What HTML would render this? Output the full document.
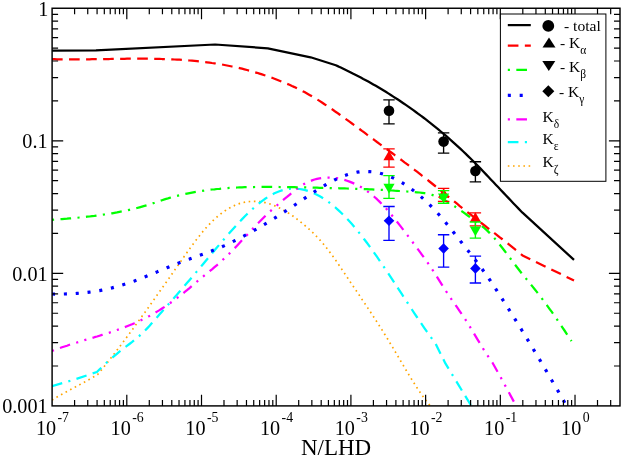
<!DOCTYPE html>
<html><head><meta charset="utf-8"><title>plot</title>
<style>html,body{margin:0;padding:0;background:#fff;}svg{display:block;will-change:transform;font-family:"Liberation Serif",serif;}</style>
</head><body>
<svg width="622" height="458" viewBox="0 0 622 458">
<rect x="0" y="0" width="622" height="458" fill="#fff"/>
<defs><clipPath id="c"><rect x="52.1" y="8.25" width="567.9" height="397.65"/></clipPath></defs>
<g clip-path="url(#c)" fill="none" stroke-linejoin="round">
<path d="M52.0,400.0 L54.5,398.6 L57.0,397.1 L59.5,395.7 L62.0,394.3 L64.5,392.9 L67.0,391.6 L69.5,390.2 L72.0,388.8 L74.5,387.5 L77.0,386.1 L79.5,384.8 L82.0,383.4 L84.5,382.1 L87.0,380.7 L89.5,379.3 L92.0,377.9 L94.5,376.5 L97.0,375.1 L97.5,374.8 L100.0,371.7 L102.5,368.6 L105.0,365.5 L107.5,362.4 L110.0,359.2 L112.5,356.0 L115.0,352.8 L117.5,349.5 L120.0,346.2 L122.5,342.9 L125.0,339.6 L127.5,336.2 L130.0,332.8 L132.5,329.4 L135.0,326.0 L137.5,322.6 L140.0,319.1 L142.5,315.6 L145.0,312.2 L147.5,308.7 L150.0,305.2 L152.5,301.6 L155.0,298.1 L157.5,294.6 L160.0,291.0 L162.5,287.5 L165.0,283.9 L167.5,280.4 L170.0,276.8 L172.5,273.2 L175.0,269.6 L177.5,266.1 L180.0,262.5 L182.5,258.9 L185.0,255.3 L187.5,251.8 L190.0,248.3 L192.5,244.9 L195.0,241.5 L197.5,238.3 L200.0,235.1 L202.5,232.0 L205.0,229.0 L207.5,226.2 L210.0,223.6 L212.5,221.0 L215.0,218.7 L217.5,216.5 L220.0,214.4 L222.5,212.5 L225.0,210.8 L227.5,209.2 L230.0,207.7 L232.5,206.4 L235.0,205.3 L237.5,204.3 L240.0,203.4 L242.5,202.7 L245.0,202.2 L247.5,201.7 L250.0,201.5 L252.5,201.3 L255.0,201.3 L257.5,201.4 L260.0,201.7 L262.5,202.1 L265.0,202.6 L267.5,203.2 L270.0,204.0 L272.5,204.9 L275.0,205.9 L277.5,207.0 L280.0,208.2 L282.5,209.5 L285.0,211.0 L287.5,212.5 L290.0,214.1 L292.5,215.8 L295.0,217.6 L297.5,219.5 L300.0,221.5 L302.5,223.5 L305.0,225.6 L307.5,227.7 L310.0,230.0 L312.5,232.3 L315.0,234.8 L317.5,237.4 L320.0,240.1 L322.5,242.9 L325.0,246.0 L327.5,249.1 L330.0,252.4 L332.5,255.8 L335.0,259.3 L337.5,262.9 L340.0,266.6 L342.5,270.3 L345.0,274.0 L347.5,277.7 L350.0,281.5 L352.5,285.2 L355.0,288.9 L357.5,292.6 L360.0,296.3 L362.5,300.1 L365.0,303.8 L367.5,307.6 L370.0,311.3 L372.5,315.1 L375.0,319.0 L377.5,322.9 L380.0,326.8 L382.5,330.7 L385.0,334.8 L387.5,338.8 L390.0,343.0 L392.5,347.1 L395.0,351.4 L397.5,355.6 L400.0,359.9 L402.5,364.1 L405.0,368.3 L407.5,372.5 L410.0,376.6 L412.5,380.7 L415.0,384.6 L417.5,388.5 L420.0,392.2 L422.5,395.8 L425.0,399.2 L427.5,402.5 L430.0,405.6 L431.0,406.8" stroke="#ffa500" stroke-width="1.7" stroke-dasharray="1.60 3.60"/>
<path d="M52.0,386.2 L75.4,379.2 L96.9,372.0 L99.4,369.5 L101.9,367.1 L104.4,364.7 L106.9,362.4 L109.4,360.2 L111.9,358.0 L114.4,355.9 L116.9,353.8 L119.4,351.7 L121.9,349.7 L124.4,347.8 L126.9,345.9 L129.4,344.0 L131.9,342.1 L134.4,340.1 L136.9,338.1 L139.4,335.9 L141.9,333.6 L144.4,331.2 L146.9,328.6 L149.4,325.9 L151.9,323.1 L154.4,320.2 L156.9,317.4 L159.4,314.6 L161.9,311.7 L164.4,308.9 L166.9,306.1 L169.4,303.2 L171.9,300.4 L174.4,297.5 L176.9,294.7 L179.4,291.8 L181.9,288.9 L184.4,286.0 L186.9,283.1 L189.4,280.2 L191.9,277.3 L194.4,274.4 L196.9,271.4 L199.4,268.5 L201.9,265.5 L204.4,262.5 L206.9,259.5 L209.4,256.5 L211.9,253.5 L214.4,250.5 L216.9,247.6 L219.4,244.6 L221.9,241.7 L224.4,238.8 L226.9,235.9 L229.4,233.0 L231.9,230.2 L234.4,227.4 L236.9,224.7 L239.4,222.0 L241.9,219.4 L244.4,216.8 L246.9,214.3 L249.4,211.9 L251.9,209.6 L254.4,207.3 L256.9,205.1 L259.4,203.1 L261.9,201.2 L264.4,199.3 L266.9,197.6 L269.4,196.0 L271.9,194.6 L274.4,193.3 L276.9,192.2 L279.4,191.2 L281.9,190.4 L284.4,189.7 L286.9,189.2 L289.4,188.8 L291.9,188.7 L294.4,188.6 L296.9,188.7 L299.4,189.0 L301.9,189.4 L304.4,189.9 L306.9,190.6 L309.4,191.4 L311.9,192.4 L314.4,193.5 L316.9,194.7 L319.4,196.0 L321.9,197.5 L324.4,199.1 L326.9,200.8 L329.4,202.7 L331.9,204.6 L334.4,206.7 L336.9,208.8 L339.4,211.1 L341.9,213.5 L344.4,216.0 L346.9,218.6 L349.4,221.3 L351.9,224.1 L354.4,227.0 L356.9,230.0 L359.4,233.1 L361.9,236.2 L364.4,239.5 L366.9,242.8 L369.4,246.2 L371.9,249.6 L374.4,253.1 L376.9,256.7 L379.4,260.3 L381.9,264.0 L384.4,267.7 L386.9,271.4 L389.4,275.1 L391.9,278.9 L394.4,282.7 L396.9,286.6 L399.4,290.4 L401.9,294.2 L404.4,298.1 L406.9,301.9 L409.4,305.7 L411.9,309.5 L414.4,313.3 L416.9,317.0 L419.4,320.8 L421.9,324.4 L424.4,328.1 L426.9,331.7 L429.4,335.2 L431.9,338.7 L434.4,342.2 L435.6,343.8 L445.4,363.4 L471.6,406.4" stroke="#00ffff" stroke-width="2.25" stroke-dasharray="10.65 6.39 2.13 6.39 10.65 6.39"/>
<path d="M52.0,351.0 L54.5,350.1 L57.0,349.1 L59.5,348.2 L62.0,347.3 L64.5,346.5 L67.0,345.7 L69.5,344.8 L72.0,344.0 L74.5,343.3 L77.0,342.5 L79.5,341.7 L82.0,341.0 L84.5,340.2 L87.0,339.5 L89.5,338.7 L92.0,338.0 L94.5,337.2 L97.0,336.5 L99.5,335.7 L102.0,334.9 L104.5,334.2 L107.0,333.4 L109.5,332.6 L112.0,331.7 L114.5,330.9 L117.0,330.0 L119.5,329.1 L122.0,328.2 L124.5,327.3 L127.0,326.3 L129.5,325.3 L132.0,324.3 L134.5,323.2 L137.0,322.1 L139.5,320.9 L142.0,319.7 L144.5,318.5 L147.0,317.2 L149.5,315.9 L152.0,314.5 L154.5,313.1 L157.0,311.6 L159.5,310.1 L162.0,308.5 L164.5,306.9 L167.0,305.2 L169.5,303.5 L172.0,301.8 L174.5,300.0 L177.0,298.1 L179.5,296.2 L182.0,294.2 L184.5,292.2 L187.0,290.2 L189.5,288.1 L192.0,285.9 L194.5,283.8 L197.0,281.6 L199.5,279.5 L202.0,277.4 L204.5,275.3 L207.0,273.3 L209.5,271.3 L212.0,269.3 L214.5,267.2 L217.0,265.1 L219.5,262.9 L222.0,260.6 L224.5,258.2 L227.0,255.8 L229.5,253.4 L232.0,250.8 L234.5,248.3 L237.0,245.7 L239.5,243.0 L242.0,240.3 L244.5,237.7 L247.0,235.0 L249.5,232.3 L252.0,229.6 L254.5,227.0 L257.0,224.3 L259.5,221.8 L262.0,219.2 L264.5,216.7 L267.0,214.3 L269.5,211.9 L272.0,209.7 L274.5,207.4 L277.0,205.3 L279.5,203.1 L282.0,201.0 L284.5,198.9 L287.0,196.9 L289.5,194.8 L292.0,192.7 L294.5,190.7 L297.0,188.8 L299.5,187.0 L302.0,185.3 L304.5,183.8 L307.0,182.5 L309.5,181.4 L312.0,180.4 L314.5,179.5 L317.0,178.8 L319.5,178.3 L322.0,177.9 L324.5,177.6 L327.0,177.5 L329.5,177.5 L332.0,177.6 L334.5,177.8 L337.0,178.2 L339.5,178.6 L342.0,179.2 L344.5,179.9 L347.0,180.7 L349.5,181.6 L352.0,182.6 L354.5,183.7 L357.0,184.9 L359.5,186.2 L362.0,187.7 L364.5,189.3 L367.0,191.0 L369.5,192.9 L372.0,194.9 L374.5,197.0 L377.0,199.2 L379.5,201.6 L382.0,204.2 L384.5,206.8 L387.0,209.6 L389.5,212.5 L392.0,215.5 L394.5,218.6 L397.0,221.7 L399.5,224.9 L402.0,228.1 L404.5,231.4 L407.0,234.7 L409.5,238.0 L412.0,241.3 L414.5,244.7 L417.0,248.0 L419.5,251.4 L422.0,254.8 L424.5,258.2 L427.0,261.8 L429.5,265.4 L432.0,269.1 L434.5,273.0 L437.0,276.9 L439.5,280.9 L442.0,284.8 L444.5,288.8 L447.0,292.6 L449.5,296.4 L452.0,300.1 L454.5,303.6 L457.0,307.2 L459.5,310.8 L462.0,314.4 L464.5,318.2 L467.0,322.1 L469.5,326.1 L472.0,330.2 L474.5,334.4 L477.0,338.6 L479.5,342.7 L482.0,346.8 L484.5,350.9 L487.0,354.7 L489.5,358.5 L492.0,362.0 L492.5,362.7 L499.6,375.3 L516.5,406.5" stroke="#ff00ff" stroke-width="2.25" stroke-dasharray="2.13 6.39 10.65 6.39 2.13 6.39"/>
<path d="M52.0,294.0 L54.5,294.1 L57.0,294.1 L59.5,294.1 L62.0,294.1 L64.5,294.0 L67.0,293.9 L69.5,293.8 L72.0,293.7 L74.5,293.6 L77.0,293.4 L79.5,293.2 L82.0,293.0 L84.5,292.7 L87.0,292.4 L89.5,292.1 L92.0,291.8 L94.5,291.4 L97.0,291.0 L99.5,290.6 L102.0,290.1 L104.5,289.6 L107.0,289.0 L109.5,288.5 L112.0,287.9 L114.5,287.2 L117.0,286.6 L119.5,285.9 L122.0,285.1 L124.5,284.3 L127.0,283.5 L129.5,282.7 L132.0,281.8 L134.5,280.9 L137.0,279.9 L139.5,279.0 L142.0,278.0 L144.5,277.0 L147.0,276.0 L149.5,275.0 L152.0,273.9 L154.5,272.9 L157.0,271.9 L159.5,270.8 L162.0,269.8 L164.5,268.7 L167.0,267.7 L169.5,266.7 L172.0,265.7 L174.5,264.7 L177.0,263.7 L179.5,262.7 L182.0,261.8 L184.5,260.9 L187.0,259.9 L189.5,259.1 L192.0,258.2 L194.5,257.3 L197.0,256.4 L199.5,255.5 L202.0,254.6 L204.5,253.7 L207.0,252.8 L209.5,251.8 L212.0,250.8 L214.5,249.8 L217.0,248.8 L219.5,247.8 L222.0,246.7 L224.5,245.6 L227.0,244.4 L229.5,243.2 L232.0,242.1 L234.5,240.8 L237.0,239.6 L239.5,238.3 L242.0,237.0 L244.5,235.7 L247.0,234.4 L249.5,233.0 L252.0,231.6 L254.5,230.2 L257.0,228.8 L259.5,227.3 L262.0,225.8 L264.5,224.3 L267.0,222.8 L269.5,221.3 L272.0,219.7 L274.5,218.2 L277.0,216.6 L279.5,215.0 L282.0,213.4 L284.5,211.8 L287.0,210.1 L289.5,208.5 L292.0,206.8 L294.5,205.2 L297.0,203.5 L299.5,201.8 L302.0,200.1 L304.5,198.4 L307.0,196.7 L309.5,195.0 L312.0,193.4 L314.5,191.7 L317.0,190.1 L319.5,188.6 L322.0,187.0 L324.5,185.5 L327.0,184.1 L329.5,182.7 L332.0,181.3 L334.5,180.0 L337.0,178.8 L339.5,177.7 L342.0,176.6 L344.5,175.7 L347.0,174.8 L349.5,174.0 L352.0,173.3 L354.5,172.7 L357.0,172.2 L359.5,171.8 L362.0,171.6 L364.5,171.5 L367.0,171.5 L369.5,171.6 L372.0,171.8 L374.5,172.1 L377.0,172.6 L379.5,173.1 L382.0,173.8 L384.5,174.5 L387.0,175.4 L389.5,176.4 L392.0,177.4 L394.5,178.6 L397.0,179.9 L399.5,181.3 L402.0,182.7 L404.5,184.3 L407.0,185.9 L409.5,187.7 L412.0,189.5 L414.5,191.4 L417.0,193.4 L419.5,195.4 L422.0,197.6 L424.5,199.9 L427.0,202.2 L429.5,204.6 L432.0,207.2 L434.5,209.8 L437.0,212.5 L439.5,215.3 L442.0,218.2 L444.5,221.2 L447.0,224.2 L449.5,227.3 L452.0,230.4 L454.5,233.6 L457.0,236.8 L459.5,239.9 L462.0,243.1 L464.5,246.2 L467.0,249.3 L469.5,252.5 L472.0,255.7 L474.5,258.9 L477.0,262.1 L479.5,265.4 L482.0,268.9 L484.5,272.3 L487.0,275.9 L489.5,279.5 L492.0,283.2 L494.5,287.0 L497.0,290.8 L499.5,294.7 L502.0,298.6 L504.5,302.5 L507.0,306.4 L509.5,310.4 L512.0,314.4 L514.5,318.4 L517.0,322.4 L519.5,326.4 L522.0,330.5 L524.5,334.6 L527.0,338.7 L529.5,342.8 L532.0,346.9 L534.5,351.1 L537.0,355.2 L539.5,359.4 L542.0,363.7 L544.5,367.9 L547.0,372.1 L549.5,376.4 L552.0,380.7 L554.5,384.9 L557.0,389.2 L559.5,393.5 L562.0,397.8 L564.5,402.2 L566.9,406.3" stroke="#0000ff" stroke-width="3.2" stroke-dasharray="3.05 8.82"/>
<path d="M52.0,219.8 L54.5,219.6 L57.0,219.4 L59.5,219.2 L62.0,219.1 L64.5,218.8 L67.0,218.7 L69.5,218.4 L72.0,218.2 L74.5,218.0 L77.0,217.8 L79.5,217.5 L82.0,217.3 L84.5,217.0 L87.0,216.7 L89.5,216.5 L92.0,216.2 L94.5,215.9 L97.0,215.5 L99.5,215.2 L102.0,214.8 L104.5,214.5 L107.0,214.1 L109.5,213.7 L112.0,213.3 L114.5,212.8 L117.0,212.4 L119.5,211.9 L122.0,211.4 L124.5,210.9 L127.0,210.4 L129.5,209.8 L132.0,209.2 L134.5,208.6 L137.0,208.0 L139.5,207.3 L142.0,206.6 L144.5,205.9 L147.0,205.2 L149.5,204.4 L152.0,203.6 L154.5,202.8 L157.0,201.9 L159.5,201.0 L162.0,200.2 L164.5,199.4 L167.0,198.7 L169.5,197.9 L172.0,197.2 L174.5,196.5 L177.0,195.9 L179.5,195.3 L182.0,194.7 L184.5,194.1 L187.0,193.6 L189.5,193.1 L192.0,192.6 L194.5,192.1 L197.0,191.7 L199.5,191.3 L202.0,190.9 L204.5,190.5 L207.0,190.2 L209.5,189.8 L212.0,189.5 L214.5,189.3 L217.0,189.0 L219.5,188.8 L222.0,188.5 L224.5,188.3 L227.0,188.1 L229.5,187.9 L232.0,187.8 L234.5,187.6 L237.0,187.5 L239.5,187.4 L242.0,187.3 L244.5,187.2 L247.0,187.1 L249.5,187.1 L252.0,187.0 L254.5,187.0 L257.0,186.9 L259.5,186.9 L262.0,186.9 L264.5,186.9 L267.0,186.9 L269.5,186.9 L272.0,186.9 L274.5,186.9 L277.0,186.9 L279.5,187.0 L282.0,187.0 L284.5,187.1 L287.0,187.1 L289.5,187.2 L292.0,187.2 L294.5,187.2 L297.0,187.3 L299.5,187.3 L302.0,187.4 L304.5,187.4 L307.0,187.5 L309.5,187.5 L312.0,187.6 L314.5,187.7 L317.0,187.7 L319.5,187.8 L322.0,187.8 L324.5,187.9 L327.0,187.9 L329.5,188.0 L332.0,188.1 L334.5,188.1 L337.0,188.2 L339.5,188.3 L342.0,188.3 L344.5,188.4 L347.0,188.5 L349.5,188.6 L352.0,188.7 L354.5,188.8 L357.0,188.8 L359.5,188.9 L362.0,189.0 L364.5,189.1 L367.0,189.2 L369.5,189.3 L372.0,189.4 L374.5,189.6 L377.0,189.7 L379.5,189.8 L382.0,189.9 L384.5,190.1 L387.0,190.2 L389.5,190.3 L392.0,190.5 L394.5,190.7 L397.0,190.8 L399.5,191.0 L402.0,191.1 L404.5,191.3 L407.0,191.5 L409.5,191.7 L412.0,191.9 L414.5,192.1 L417.0,192.3 L419.5,192.5 L422.0,192.8 L424.5,193.2 L427.0,193.7 L429.5,194.2 L432.0,194.9 L434.5,195.7 L437.0,196.6 L439.5,197.6 L442.0,198.8 L444.5,200.1 L447.0,201.5 L449.5,203.0 L452.0,204.6 L454.5,206.2 L457.0,207.9 L459.5,209.7 L462.0,211.4 L464.5,213.2 L467.0,215.0 L469.5,216.7 L472.0,218.5 L474.5,220.3 L477.0,222.1 L479.5,224.1 L482.0,226.1 L484.5,228.2 L487.0,230.4 L489.5,232.9 L492.0,235.5 L494.5,238.3 L497.0,241.2 L499.5,244.3 L502.0,247.5 L504.5,250.8 L507.0,254.1 L509.5,257.4 L512.0,260.7 L514.5,264.0 L517.0,267.3 L519.5,270.5 L522.0,273.6 L524.5,276.7 L527.0,279.7 L529.5,282.8 L532.0,285.9 L534.5,289.0 L537.0,292.1 L539.5,295.3 L542.0,298.6 L544.5,301.9 L547.0,305.3 L549.5,308.8 L552.0,312.2 L554.5,315.8 L557.0,319.4 L559.5,323.1 L562.0,326.8 L564.5,330.5 L567.0,334.3 L569.5,338.1 L571.5,341.2" stroke="#00ff00" stroke-width="2.25" stroke-dasharray="2.13 6.39 10.65 6.39"/>
<path d="M52.0,59.2 L54.5,59.2 L57.0,59.3 L59.5,59.3 L62.0,59.4 L64.5,59.4 L67.0,59.4 L69.5,59.4 L72.0,59.4 L74.5,59.4 L77.0,59.4 L79.5,59.4 L82.0,59.4 L84.5,59.3 L87.0,59.3 L89.5,59.3 L92.0,59.2 L94.5,59.2 L97.0,59.2 L99.5,59.1 L102.0,59.1 L104.5,59.0 L107.0,59.0 L109.5,59.0 L112.0,58.9 L114.5,58.9 L117.0,58.9 L119.5,58.8 L122.0,58.8 L124.5,58.8 L127.0,58.7 L129.5,58.7 L132.0,58.7 L134.5,58.7 L137.0,58.7 L139.5,58.7 L142.0,58.7 L144.5,58.7 L147.0,58.7 L149.5,58.7 L152.0,58.8 L154.5,58.8 L157.0,58.8 L159.5,58.9 L162.0,59.0 L164.5,59.0 L167.0,59.1 L169.5,59.2 L172.0,59.3 L174.5,59.5 L177.0,59.6 L179.5,59.7 L182.0,59.9 L184.5,60.1 L187.0,60.2 L189.5,60.5 L192.0,60.7 L194.5,60.9 L197.0,61.1 L199.5,61.4 L202.0,61.7 L204.5,62.0 L207.0,62.3 L209.5,62.6 L212.0,63.0 L214.5,63.3 L217.0,63.7 L219.5,64.1 L222.0,64.5 L224.5,65.0 L227.0,65.5 L229.5,66.0 L232.0,66.5 L234.5,67.0 L237.0,67.5 L239.5,68.1 L242.0,68.7 L244.5,69.3 L247.0,70.0 L249.5,70.7 L252.0,71.4 L254.5,72.1 L257.0,72.8 L259.5,73.6 L262.0,74.4 L264.5,75.2 L267.0,76.0 L269.5,76.9 L272.0,77.8 L274.5,78.7 L277.0,79.7 L279.5,80.7 L282.0,81.7 L284.5,82.7 L287.0,83.8 L289.5,84.8 L292.0,86.0 L294.5,87.1 L297.0,88.3 L299.5,89.5 L302.0,90.8 L304.5,92.1 L307.0,93.5 L309.5,94.9 L312.0,96.3 L314.5,97.8 L317.0,99.3 L319.5,100.9 L322.0,102.5 L324.5,104.2 L327.0,105.8 L329.5,107.5 L332.0,109.2 L334.5,111.0 L337.0,112.7 L339.5,114.5 L342.0,116.3 L344.5,118.1 L347.0,119.9 L349.5,121.7 L352.0,123.5 L354.5,125.3 L357.0,127.2 L359.5,129.0 L362.0,130.9 L364.5,132.7 L367.0,134.6 L369.5,136.4 L372.0,138.3 L374.5,140.1 L377.0,142.0 L379.5,143.8 L382.0,145.7 L384.5,147.5 L387.0,149.3 L389.5,151.2 L392.0,153.0 L394.5,154.9 L397.0,156.7 L399.5,158.6 L402.0,160.4 L404.5,162.3 L407.0,164.1 L409.5,166.0 L412.0,167.9 L414.5,169.8 L417.0,171.7 L419.5,173.6 L422.0,175.6 L424.5,177.5 L427.0,179.5 L429.5,181.5 L432.0,183.5 L434.5,185.5 L437.0,187.5 L439.5,189.5 L442.0,191.6 L444.5,193.6 L447.0,195.6 L449.5,197.7 L452.0,199.7 L454.5,201.7 L457.0,203.7 L459.5,205.8 L462.0,207.8 L464.5,209.8 L467.0,211.8 L469.5,213.7 L472.0,215.7 L474.5,217.7 L477.0,219.6 L479.5,221.6 L482.0,223.5 L484.5,225.4 L487.0,227.4 L489.5,229.3 L492.0,231.2 L494.5,233.2 L497.0,235.1 L499.5,237.1 L502.0,239.0 L504.5,241.0 L507.0,242.9 L509.5,244.9 L512.0,246.9 L514.5,248.9 L517.0,250.9 L519.5,252.9 L522.0,255.0 L522.5,255.4 L574.0,280.5" stroke="#ff0000" stroke-width="2.25" stroke-dasharray="10.65 6.39"/>
<path d="M52.0,50.7 L96.0,50.3 L215.1,44.5 L267.8,48.3 L310.6,57.3 L335.8,65.3 L338.3,66.4 L340.8,67.6 L343.3,68.8 L345.8,70.0 L348.3,71.2 L350.8,72.4 L353.3,73.7 L355.8,74.9 L358.3,76.2 L360.8,77.5 L363.3,78.9 L365.8,80.2 L368.3,81.6 L370.8,83.0 L373.3,84.4 L375.8,85.8 L378.3,87.3 L380.8,88.8 L383.3,90.3 L385.8,91.8 L388.3,93.4 L390.8,95.0 L393.3,96.6 L395.8,98.2 L398.3,99.8 L400.8,101.5 L403.3,103.2 L405.8,104.9 L408.3,106.6 L410.8,108.4 L413.3,110.2 L415.8,112.0 L418.3,113.8 L420.8,115.7 L423.3,117.5 L425.8,119.4 L428.3,121.4 L430.8,123.3 L433.3,125.3 L435.8,127.3 L438.3,129.4 L440.8,131.5 L443.3,133.6 L445.8,135.7 L448.3,137.9 L450.8,140.1 L453.3,142.3 L455.8,144.6 L458.3,146.9 L460.8,149.2 L463.3,151.5 L465.8,153.9 L468.3,156.4 L470.8,158.8 L473.3,161.3 L475.8,163.8 L478.3,166.4 L480.8,168.9 L483.3,171.5 L485.8,174.1 L488.3,176.7 L490.8,179.4 L493.3,182.0 L495.8,184.7 L498.3,187.3 L500.8,190.0 L503.3,192.6 L505.8,195.3 L508.3,197.9 L510.8,200.6 L513.3,203.2 L515.8,205.8 L518.3,208.4 L520.8,211.0 L522.5,212.7 L574.0,259.9" stroke="#000000" stroke-width="2.25"/>
</g>
<path d="M74.59,405.9 v-6.0 M74.59,8.25 v6.0 M87.74,405.9 v-6.0 M87.74,8.25 v6.0 M97.08,405.9 v-6.0 M97.08,8.25 v6.0 M104.32,405.9 v-6.0 M104.32,8.25 v6.0 M110.23,405.9 v-6.0 M110.23,8.25 v6.0 M115.23,405.9 v-6.0 M115.23,8.25 v6.0 M119.56,405.9 v-6.0 M119.56,8.25 v6.0 M123.39,405.9 v-6.0 M123.39,8.25 v6.0 M126.80,405.9 v-11.1 M126.80,8.25 v11.1 M149.29,405.9 v-6.0 M149.29,8.25 v6.0 M162.45,405.9 v-6.0 M162.45,8.25 v6.0 M171.78,405.9 v-6.0 M171.78,8.25 v6.0 M179.02,405.9 v-6.0 M179.02,8.25 v6.0 M184.93,405.9 v-6.0 M184.93,8.25 v6.0 M189.94,405.9 v-6.0 M189.94,8.25 v6.0 M194.27,405.9 v-6.0 M194.27,8.25 v6.0 M198.09,405.9 v-6.0 M198.09,8.25 v6.0 M201.51,405.9 v-11.1 M201.51,8.25 v11.1 M223.99,405.9 v-6.0 M223.99,8.25 v6.0 M237.15,405.9 v-6.0 M237.15,8.25 v6.0 M246.48,405.9 v-6.0 M246.48,8.25 v6.0 M253.72,405.9 v-6.0 M253.72,8.25 v6.0 M259.64,405.9 v-6.0 M259.64,8.25 v6.0 M264.64,405.9 v-6.0 M264.64,8.25 v6.0 M268.97,405.9 v-6.0 M268.97,8.25 v6.0 M272.79,405.9 v-6.0 M272.79,8.25 v6.0 M276.21,405.9 v-11.1 M276.21,8.25 v11.1 M298.70,405.9 v-6.0 M298.70,8.25 v6.0 M311.85,405.9 v-6.0 M311.85,8.25 v6.0 M321.19,405.9 v-6.0 M321.19,8.25 v6.0 M328.43,405.9 v-6.0 M328.43,8.25 v6.0 M334.34,405.9 v-6.0 M334.34,8.25 v6.0 M339.34,405.9 v-6.0 M339.34,8.25 v6.0 M343.67,405.9 v-6.0 M343.67,8.25 v6.0 M347.50,405.9 v-6.0 M347.50,8.25 v6.0 M350.91,405.9 v-11.1 M350.91,8.25 v11.1 M373.40,405.9 v-6.0 M373.40,8.25 v6.0 M386.56,405.9 v-6.0 M386.56,8.25 v6.0 M395.89,405.9 v-6.0 M395.89,8.25 v6.0 M403.13,405.9 v-6.0 M403.13,8.25 v6.0 M409.04,405.9 v-6.0 M409.04,8.25 v6.0 M414.05,405.9 v-6.0 M414.05,8.25 v6.0 M418.38,405.9 v-6.0 M418.38,8.25 v6.0 M422.20,405.9 v-6.0 M422.20,8.25 v6.0 M425.62,405.9 v-11.1 M425.62,8.25 v11.1 M448.11,405.9 v-6.0 M448.11,8.25 v6.0 M461.26,405.9 v-6.0 M461.26,8.25 v6.0 M470.59,405.9 v-6.0 M470.59,8.25 v6.0 M477.83,405.9 v-6.0 M477.83,8.25 v6.0 M483.75,405.9 v-6.0 M483.75,8.25 v6.0 M488.75,405.9 v-6.0 M488.75,8.25 v6.0 M493.08,405.9 v-6.0 M493.08,8.25 v6.0 M496.90,405.9 v-6.0 M496.90,8.25 v6.0 M500.32,405.9 v-11.1 M500.32,8.25 v11.1 M522.81,405.9 v-6.0 M522.81,8.25 v6.0 M535.96,405.9 v-6.0 M535.96,8.25 v6.0 M545.30,405.9 v-6.0 M545.30,8.25 v6.0 M552.54,405.9 v-6.0 M552.54,8.25 v6.0 M558.45,405.9 v-6.0 M558.45,8.25 v6.0 M563.45,405.9 v-6.0 M563.45,8.25 v6.0 M567.78,405.9 v-6.0 M567.78,8.25 v6.0 M571.61,405.9 v-6.0 M571.61,8.25 v6.0 M575.02,405.9 v-11.1 M575.02,8.25 v11.1 M597.51,405.9 v-6.0 M597.51,8.25 v6.0 M610.67,405.9 v-6.0 M610.67,8.25 v6.0 M52.1,366.00 h6.0 M620.0,366.00 h-6.0 M52.1,342.66 h6.0 M620.0,342.66 h-6.0 M52.1,326.10 h6.0 M620.0,326.10 h-6.0 M52.1,313.25 h6.0 M620.0,313.25 h-6.0 M52.1,302.76 h6.0 M620.0,302.76 h-6.0 M52.1,293.88 h6.0 M620.0,293.88 h-6.0 M52.1,286.20 h6.0 M620.0,286.20 h-6.0 M52.1,279.42 h6.0 M620.0,279.42 h-6.0 M52.1,273.35 h11.1 M620.0,273.35 h-11.1 M52.1,233.45 h6.0 M620.0,233.45 h-6.0 M52.1,210.11 h6.0 M620.0,210.11 h-6.0 M52.1,193.55 h6.0 M620.0,193.55 h-6.0 M52.1,180.70 h6.0 M620.0,180.70 h-6.0 M52.1,170.21 h6.0 M620.0,170.21 h-6.0 M52.1,161.33 h6.0 M620.0,161.33 h-6.0 M52.1,153.65 h6.0 M620.0,153.65 h-6.0 M52.1,146.87 h6.0 M620.0,146.87 h-6.0 M52.1,140.80 h11.1 M620.0,140.80 h-11.1 M52.1,100.90 h6.0 M620.0,100.90 h-6.0 M52.1,77.56 h6.0 M620.0,77.56 h-6.0 M52.1,61.00 h6.0 M620.0,61.00 h-6.0 M52.1,48.15 h6.0 M620.0,48.15 h-6.0 M52.1,37.66 h6.0 M620.0,37.66 h-6.0 M52.1,28.78 h6.0 M620.0,28.78 h-6.0 M52.1,21.10 h6.0 M620.0,21.10 h-6.0 M52.1,14.32 h6.0 M620.0,14.32 h-6.0" stroke="#000" stroke-width="1.2" fill="none"/>
<rect x="52.1" y="8.25" width="567.9" height="397.65" fill="none" stroke="#000" stroke-width="1.45"/>
<path d="M389.0,99.8 V123.9 M383.3,99.8 h11.4 M383.3,123.9 h11.4" stroke="#000000" stroke-width="1.35" fill="none"/>
<circle cx="389.0" cy="110.8" r="5.30" fill="#000000"/>
<path d="M443.6,132.8 V153.1 M437.90000000000003,132.8 h11.4 M437.90000000000003,153.1 h11.4" stroke="#000000" stroke-width="1.35" fill="none"/>
<circle cx="443.6" cy="141.6" r="5.30" fill="#000000"/>
<path d="M475.4,161.7 V181.8 M469.7,161.7 h11.4 M469.7,181.8 h11.4" stroke="#000000" stroke-width="1.35" fill="none"/>
<circle cx="475.4" cy="171" r="5.30" fill="#000000"/>
<path d="M389.0,148.9 V167.1 M383.3,148.9 h11.4 M383.3,167.1 h11.4" stroke="#ff0000" stroke-width="1.35" fill="none"/>
<path d="M389.0,150.53 L394.60,160.23 L383.40,160.23 Z" fill="#ff0000"/>
<path d="M443.6,188.3 V201.4 M437.90000000000003,188.3 h11.4 M437.90000000000003,201.4 h11.4" stroke="#ff0000" stroke-width="1.35" fill="none"/>
<path d="M443.6,188.13 L449.20,197.83 L438.00,197.83 Z" fill="#ff0000"/>
<path d="M475.4,212.8 V225.8 M469.7,212.8 h11.4 M469.7,225.8 h11.4" stroke="#ff0000" stroke-width="1.35" fill="none"/>
<path d="M475.4,212.33 L481.00,222.03 L469.80,222.03 Z" fill="#ff0000"/>
<path d="M389.0,175.6 V198.4 M383.3,175.6 h11.4 M383.3,198.4 h11.4" stroke="#00ff00" stroke-width="1.35" fill="none"/>
<path d="M389.0,193.47 L394.60,183.77 L383.40,183.77 Z" fill="#00ff00"/>
<path d="M443.6,190.6 V203.2 M437.90000000000003,190.6 h11.4 M437.90000000000003,203.2 h11.4" stroke="#00ff00" stroke-width="1.35" fill="none"/>
<path d="M443.6,203.27 L449.20,193.57 L438.00,193.57 Z" fill="#00ff00"/>
<path d="M475.4,222 V238.1 M469.7,222 h11.4 M469.7,238.1 h11.4" stroke="#00ff00" stroke-width="1.35" fill="none"/>
<path d="M475.4,236.17 L481.00,226.47 L469.80,226.47 Z" fill="#00ff00"/>
<path d="M389.0,206.5 V240.4 M383.3,206.5 h11.4 M383.3,240.4 h11.4" stroke="#0000ff" stroke-width="1.35" fill="none"/>
<path d="M389.0,215.50 L394.30,220.8 L389.0,226.10 L383.70,220.8 Z" fill="#0000ff"/>
<path d="M443.6,234.7 V267.1 M437.90000000000003,234.7 h11.4 M437.90000000000003,267.1 h11.4" stroke="#0000ff" stroke-width="1.35" fill="none"/>
<path d="M443.6,243.20 L448.90,248.5 L443.6,253.80 L438.30,248.5 Z" fill="#0000ff"/>
<path d="M475.4,256.1 V283 M469.7,256.1 h11.4 M469.7,283 h11.4" stroke="#0000ff" stroke-width="1.35" fill="none"/>
<path d="M475.4,263.10 L480.70,268.4 L475.4,273.70 L470.10,268.4 Z" fill="#0000ff"/>
<text x="48.4" y="15.8" font-size="20.2" text-anchor="end">1</text>
<text x="47.6" y="148.3" font-size="20.2" text-anchor="end">0.1</text>
<text x="47.6" y="280.8" font-size="20.2" text-anchor="end">0.01</text>
<text x="47.6" y="413.4" font-size="20.2" text-anchor="end">0.001</text>
<text x="35.9" y="434.6" font-size="20.2">10</text>
<text x="57.5" y="421.6" font-size="13.8">-7</text>
<text x="110.6" y="434.6" font-size="20.2">10</text>
<text x="132.2" y="421.6" font-size="13.8">-6</text>
<text x="185.3" y="434.6" font-size="20.2">10</text>
<text x="206.9" y="421.6" font-size="13.8">-5</text>
<text x="260.0" y="434.6" font-size="20.2">10</text>
<text x="281.6" y="421.6" font-size="13.8">-4</text>
<text x="334.7" y="434.6" font-size="20.2">10</text>
<text x="356.3" y="421.6" font-size="13.8">-3</text>
<text x="409.4" y="434.6" font-size="20.2">10</text>
<text x="431.0" y="421.6" font-size="13.8">-2</text>
<text x="484.1" y="434.6" font-size="20.2">10</text>
<text x="505.7" y="421.6" font-size="13.8">-1</text>
<text x="561.1" y="434.6" font-size="20.2">10</text>
<text x="582.7" y="421.6" font-size="13.8">0</text>
<text x="336.1" y="455.2" font-size="23" text-anchor="middle">N/LHD</text>
<rect x="500.4" y="14.0" width="105.5" height="167.3" fill="#fff" stroke="#000" stroke-width="1.0"/>
<path d="M507.8,25.1 H530.8" stroke="#000000" stroke-width="2.25" fill="none"/>
<circle cx="548.3" cy="25.9" r="5.9" fill="#000"/>
<text x="564" y="30.7" font-size="15.6">- total<tspan font-size="11.5" dy="6"></tspan></text>
<path d="M507.8,45.5 H530.8" stroke="#ff0000" stroke-width="2.25" fill="none" stroke-dasharray="10.65 6.39"/>
<path d="M549,37.6 L555.5,47.6 L542.5,47.6 Z" fill="#000"/>
<text x="560" y="48.2" font-size="15.6">- K<tspan font-size="11.5" dy="6">α</tspan></text>
<path d="M507.8,69.8 H530.8" stroke="#00ff00" stroke-width="2.25" fill="none" stroke-dasharray="2.13 6.39 10.65 6.39"/>
<path d="M548.8,71.1 L555.3,61 L542.3,61 Z" fill="#000"/>
<text x="560" y="71.6" font-size="15.6">- K<tspan font-size="11.5" dy="6">β</tspan></text>
<path d="M507.8,95.3 H530.8" stroke="#0000ff" stroke-width="3.2" fill="none" stroke-dasharray="3.05 8.82"/>
<path d="M548.3,85.3 L554.3,91.3 L548.3,97.3 L542.3,91.3 Z" fill="#000"/>
<text x="559" y="96.7" font-size="15.6">- K<tspan font-size="11.5" dy="6">γ</tspan></text>
<path d="M507.8,119.4 H530.8" stroke="#ff00ff" stroke-width="2.25" fill="none" stroke-dasharray="2.13 6.39 10.65 6.39 2.13 6.39"/>
<text x="542.6" y="121.5" font-size="15.6">K<tspan font-size="11.5" dy="6">δ</tspan></text>
<path d="M507.8,142 H530.8" stroke="#00ffff" stroke-width="2.25" fill="none" stroke-dasharray="10.65 6.39 2.13 6.39 10.65 6.39"/>
<text x="542.6" y="144" font-size="15.6">K<tspan font-size="11.5" dy="6">ε</tspan></text>
<path d="M507.8,166 H530.8" stroke="#ffa500" stroke-width="1.7" fill="none" stroke-dasharray="1.60 3.60"/>
<text x="542.6" y="167.2" font-size="15.6">K<tspan font-size="11.5" dy="6">ζ</tspan></text>
</svg>
</body></html>
